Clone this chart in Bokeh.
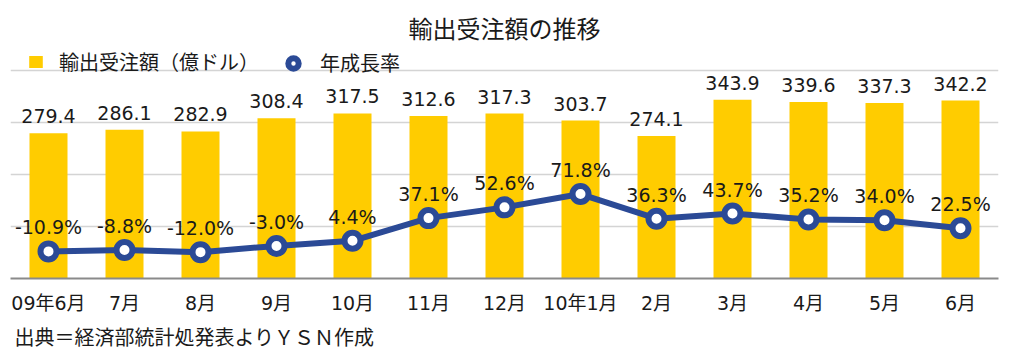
from bokeh.plotting import figure
from bokeh.models import (ColumnDataSource, Range1d, FixedTicker, Title,
                          Legend, LegendItem, FactorRange)
from bokeh.embed import file_html
from bokeh.resources import INLINE

months = ["09年6月", "7月", "8月", "9月", "10月", "11月", "12月",
          "10年1月", "2月", "3月", "4月", "5月", "6月"]
orders = [279.4, 286.1, 282.9, 308.4, 317.5, 312.6, 317.3, 303.7, 274.1,
          343.9, 339.6, 337.3, 342.2]
growth = [-10.9, -8.8, -12.0, -3.0, 4.4, 37.1, 52.6, 71.8, 36.3, 43.7,
          35.2, 34.0, 22.5]

FONT = "Noto Sans CJK JP"
NUMFONT = "DejaVu Sans, Noto Sans CJK JP"
TXT = "#1a1a1a"
BAR = "#FFCC00"
LINE = "#2B4A96"

src = ColumnDataSource(dict(
    m=months, v=orders, g=growth,
    vl=[f"{x:.1f}" for x in orders],
    gl=[f"{x:.1f}%" for x in growth],
))

p = figure(x_range=FactorRange(*months, range_padding=0), y_range=Range1d(0, 450),
           width=1012, height=361, output_backend="svg", toolbar_location=None,
           min_border_left=10, min_border_right=14, min_border_top=44,
           min_border_bottom=83)
p.extra_y_ranges = {"pct": Range1d(-50, 287.5)}
p.outline_line_color = None
p.background_fill_color = "white"
p.border_fill_color = "white"

p.title.text = "輸出受注額の推移"
p.title.align = "center"
p.title.standoff = 0
p.title.text_font = FONT
p.title.text_font_size = "24px"
p.title.text_font_style = "normal"
p.title.text_color = TXT

p.yaxis.visible = False
p.xgrid.visible = False
p.ygrid.ticker = FixedTicker(ticks=[100, 200, 300, 400])
p.ygrid.grid_line_color = "#d4d4d4"
p.ygrid.grid_line_width = 1.5

ax = p.xaxis[0]
ax.axis_line_color = "#8a8a8a"
ax.axis_line_width = 2
ax.major_tick_line_color = None
ax.minor_tick_line_color = None
ax.major_label_text_font = NUMFONT
ax.major_label_text_font_size = "19px"
ax.major_label_text_color = TXT
ax.major_label_standoff = 7

bars = p.vbar(x="m", top="v", width=0.5, source=src, fill_color=BAR, line_color=None)
p.text(x="m", y="v", text="vl", source=src, text_align="center", text_baseline="middle",
       y_offset=-17, text_font_size="19px", text_color=TXT, text_font={"value": NUMFONT})

p.line(x="m", y="g", source=src, y_range_name="pct", line_color=LINE, line_width=6)
pts = p.scatter(x="m", y="g", source=src, y_range_name="pct", size=16,
                fill_color="white", line_color=LINE, line_width=6)
p.text(x="m", y="g", text="gl", source=src, y_range_name="pct", text_align="center",
       text_baseline="middle", y_offset=-24, text_font_size="19px", text_color=TXT,
       text_font={"value": NUMFONT})

src_note = Title(text="出典＝経済部統計処発表よりＹＳＮ作成", align="left", offset=4,
                 standoff=7, text_font=FONT, text_font_size="20px",
                 text_font_style="normal", text_color=TXT)
p.add_layout(src_note, "below")

def mk_legend(item, loc, gw, gh, standoff):
    return Legend(items=[item], location=loc, orientation="horizontal",
                  glyph_width=gw, glyph_height=gh, padding=0, margin=0, spacing=0,
                  label_standoff=standoff, border_line_alpha=0,
                  background_fill_alpha=0, label_text_font=FONT,
                  label_text_font_size="20px", label_text_color=TXT)

p.add_layout(mk_legend(LegendItem(label="輸出受注額（億ドル）", renderers=[bars]),
                       (17, 202), 17, 15, 15))
p.add_layout(mk_legend(LegendItem(label="年成長率", renderers=[pts]),
                       (270, 201), 26, 26, 14))

open("out.html", "w").write(file_html(p, INLINE))
